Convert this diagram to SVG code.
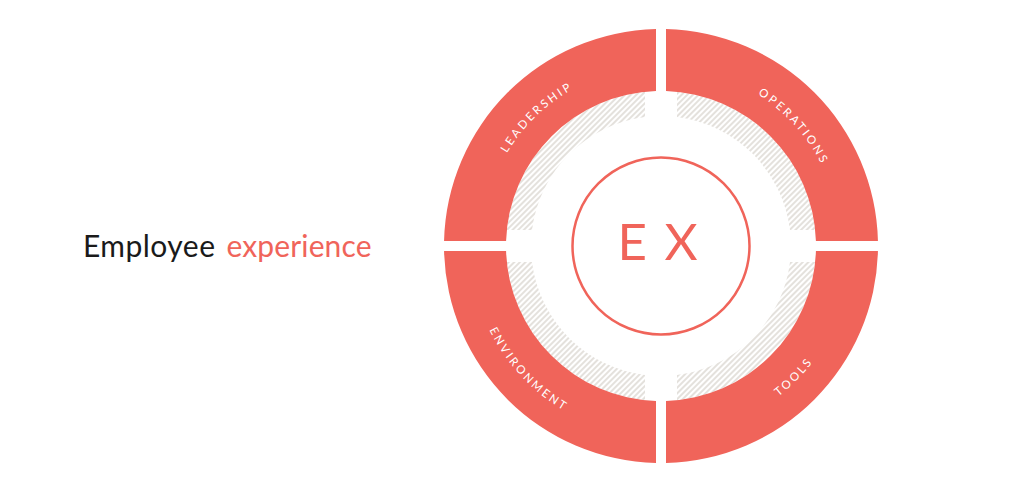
<svg xmlns="http://www.w3.org/2000/svg" width="1024" height="494" viewBox="0 0 1024 494">
<style>
.red{fill:#f0645a}
.hatch{fill:url(#hatch)}
.lbl{font-family:Lato,"Open Sans",sans-serif;font-size:11.5px;letter-spacing:2.6px;fill:#ffffff}
.title{font-family:Lato,"Liberation Sans",sans-serif;font-size:30px;font-weight:400}
</style>
<defs>
<pattern id="hatch" patternUnits="userSpaceOnUse" width="4" height="4" patternTransform="rotate(45)">
<line x1="1" y1="0" x2="1" y2="4" stroke="#dddad4" stroke-width="1.6"/>
</pattern>
<path id="pL" d="M482.0,227.2 A180,180 0 0 1 648.4,66.4"/>
<path id="pO" d="M686.1,67.7 A180,180 0 0 1 840.9,239.7"/>
<path id="pE" d="M470.3,256.0 A191,191 0 0 0 637.7,435.6"/>
<path id="pT" d="M679.3,436.1 A191,191 0 0 0 851.4,261.0"/>
</defs>
<rect width="1024" height="494" fill="#ffffff"/>
<g id="title">
<text class="title" x="83" y="257" fill="#1a1a1a" textLength="132" lengthAdjust="spacing">Employee</text>
<text class="title" x="226.5" y="257" fill="#f0645a" textLength="145" lengthAdjust="spacing">experience</text>
</g>
<g id="hatching">
<path class="hatch" d="M506.83,230 A155,155 0 0 1 645,91.83 L645,116.99 A130,130 0 0 0 531.99,230 Z"/>
<path class="hatch" d="M677,91.83 A155,155 0 0 1 815.17,230 L790.01,230 A130,130 0 0 0 677,116.99 Z"/>
<path class="hatch" d="M815.17,262 A155,155 0 0 1 677,400.17 L677,375.01 A130,130 0 0 0 790.01,262 Z"/>
<path class="hatch" d="M645,400.17 A155,155 0 0 1 506.83,262 L531.99,262 A130,130 0 0 0 645,375.01 Z"/>
</g>
<g id="leadership">
<path class="red" d="M444.06,241 A217,217 0 0 1 656,29.06 L656,91.08 A155,155 0 0 0 506.08,241 Z"/>
<text class="lbl"><textPath href="#pL" startOffset="50%" text-anchor="middle">LEADERSHIP</textPath></text>
</g>
<g id="operations">
<path class="red" d="M666,29.06 A217,217 0 0 1 877.94,241 L815.92,241 A155,155 0 0 0 666,91.08 Z"/>
<text class="lbl"><textPath href="#pO" startOffset="50%" text-anchor="middle">OPERATIONS</textPath></text>
</g>
<g id="tools">
<path class="red" d="M877.94,251 A217,217 0 0 1 666,462.94 L666,400.92 A155,155 0 0 0 815.92,251 Z"/>
<text class="lbl"><textPath href="#pT" startOffset="50%" text-anchor="middle">TOOLS</textPath></text>
</g>
<g id="environment">
<path class="red" d="M656,462.94 A217,217 0 0 1 444.06,251 L506.08,251 A155,155 0 0 0 656,400.92 Z"/>
<text class="lbl"><textPath href="#pE" startOffset="50%" text-anchor="middle">ENVIRONMENT</textPath></text>
</g>
<g id="ex">
<circle cx="661" cy="246" r="88.5" fill="none" stroke="#f0645a" stroke-width="2.5"/>
<text x="617.5 664.5" y="260" font-family="Lato,'Open Sans',sans-serif" font-size="51" font-weight="400" fill="#f0645a">EX</text>
</g>
<g id="connectors"></g>
</svg>
